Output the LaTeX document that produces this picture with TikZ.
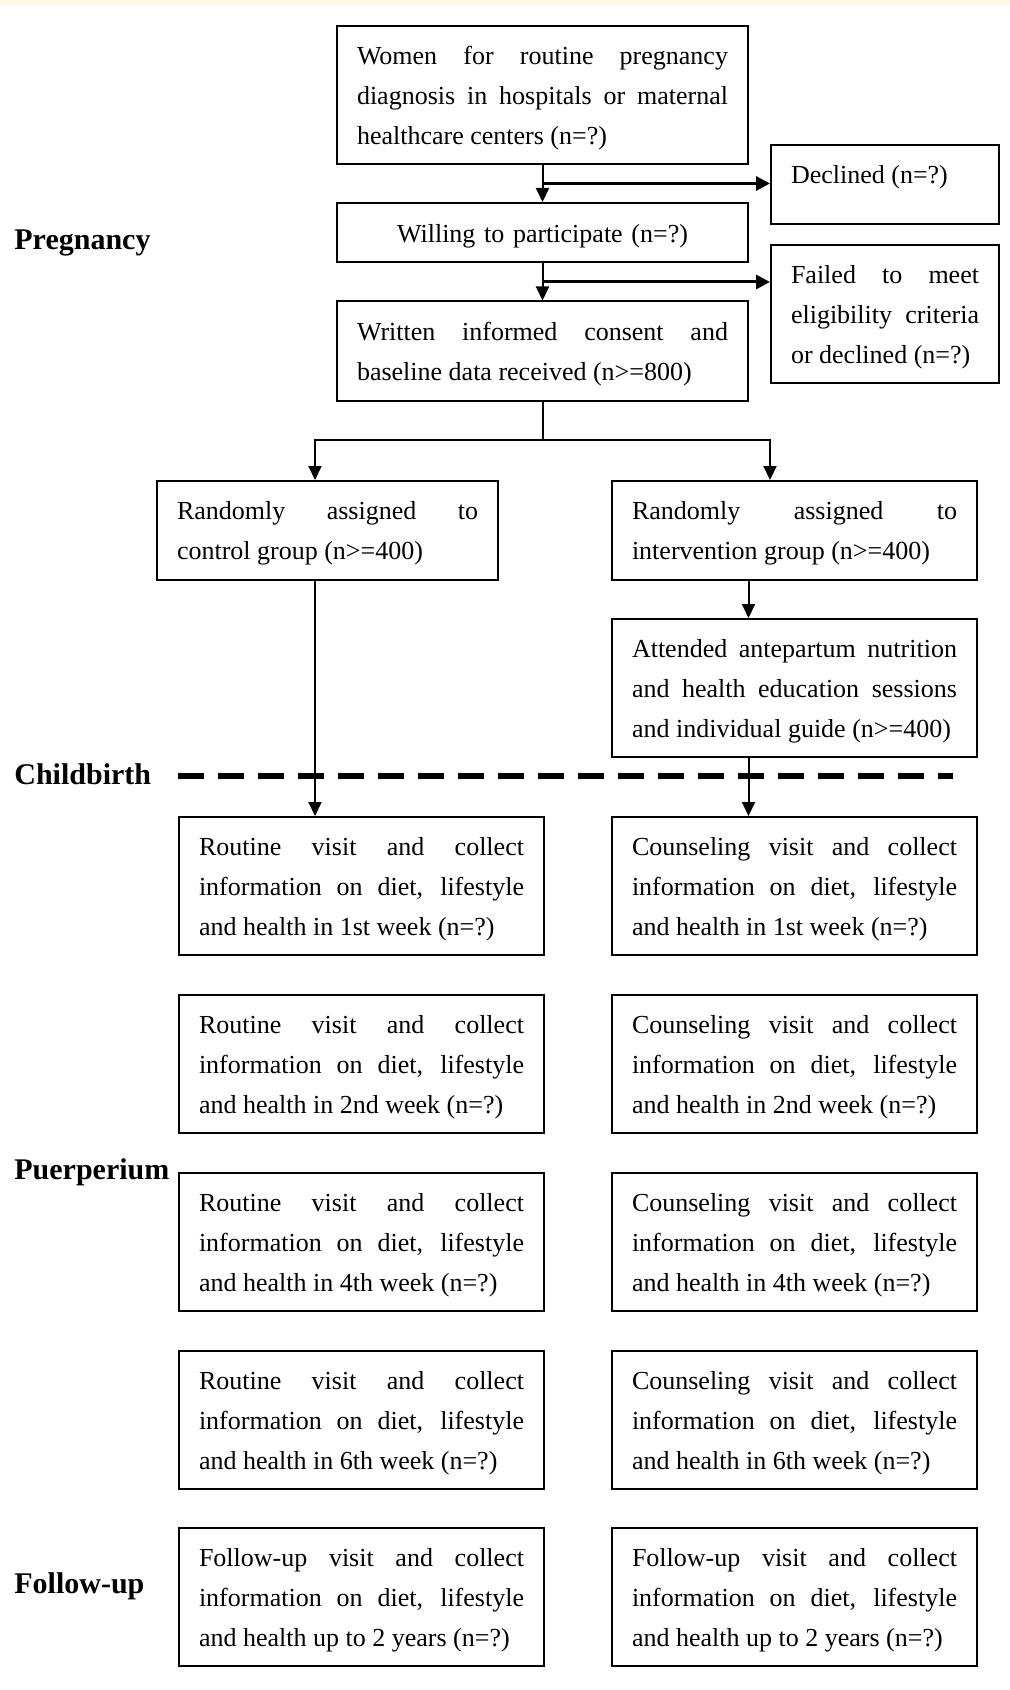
\documentclass[tikz,border=0pt]{standalone}
\usepackage{fontspec}
\setmainfont{Liberation Serif}
\usepackage{tikz}
\usetikzlibrary{arrows.meta,positioning,calc}
\tolerance=10000
\hbadness=10000
\hyphenpenalty=10000
\exhyphenpenalty=10000
\definecolor{topband}{RGB}{255,250,232}
\tikzset{
    box/.style={draw, line width=1pt, inner xsep=10pt, inner ysep=5pt, align=justify, font=\fontsize{13}{20}\selectfont, execute at begin node={\rule{0pt}{12.2pt}}},
    mainbox/.style={box, text width=185.5pt},
    sidebox/.style={box, text width=94pt},
    armbox/.style={box, text width=162.5pt},
    threeline/.style={minimum height=69pt},
    twoline/.style={minimum height=49.5pt},
    flow/.style={-{Triangle[length=7pt, width=6.5pt]}, line width=1pt},
    exitflow/.style={-{Triangle[length=7pt, width=7pt]}, line width=1.5pt},
    stagelabel/.style={anchor=west, inner sep=0pt, font=\fontsize{15}{18}\selectfont\bfseries},
    birthline/.style={line width=3pt, dash pattern=on 13pt off 7pt}
}
\begin{document}
\begin{tikzpicture}[node distance=18.5pt]
\fill[white] (0,0) rectangle (505pt,-845pt);
\useasboundingbox (0,0) rectangle (505pt,-845pt);
\fill[topband] (0,0) rectangle (505pt,-3pt);

\node[mainbox, threeline] (women) at (271.25pt,-47.5pt) {Women for routine pregnancy\linebreak diagnosis in hospitals or maternal\linebreak healthcare centers (n=?)};
\node[mainbox, align=center, minimum height=29.75pt, below=of women] (willing) {Willing to participate (n=?)};
\node[mainbox, twoline, below=of willing] (consent) {Written informed consent and\linebreak baseline data received (n>=800)};
\node[sidebox, anchor=north west, text height=14.15pt, text depth=15.35pt] (declined) at (385pt,-72pt) {Declined (n=?)};
\node[sidebox, threeline, anchor=north west] (failed) at (385pt,-122pt) {Failed to meet\linebreak eligibility criteria\linebreak or declined (n=?)};

\node[box, text width=150.5pt, twoline, anchor=north west] (control) at (78pt,-240pt) {Randomly assigned to\linebreak control group (n>=400)};
\node[armbox, twoline, anchor=north west] (interv) at (305.5pt,-240pt) {Randomly assigned to\linebreak intervention group (n>=400)};
\node[armbox, threeline, below=of interv] (guide) {Attended antepartum nutrition\linebreak and health education sessions\linebreak and individual guide (n>=400)};

\node[armbox, threeline, anchor=north west] (rw1) at (89pt,-408pt) {Routine visit and collect\linebreak information on diet, lifestyle\linebreak and health in 1st week (n=?)};
\node[armbox, threeline, below=19pt of rw1] (rw2) {Routine visit and collect\linebreak information on diet, lifestyle\linebreak and health in 2nd week (n=?)};
\node[armbox, threeline, below=19pt of rw2] (rw4) {Routine visit and collect\linebreak information on diet, lifestyle\linebreak and health in 4th week (n=?)};
\node[armbox, threeline, below=19pt of rw4] (rw6) {Routine visit and collect\linebreak information on diet, lifestyle\linebreak and health in 6th week (n=?)};
\node[armbox, threeline, below=18.5pt of rw6] (rfu) {Follow-up visit and collect\linebreak information on diet, lifestyle\linebreak and health up to 2 years (n=?)};

\node[armbox, threeline, anchor=north west] (cw1) at (305.5pt,-408pt) {Counseling visit and collect\linebreak information on diet, lifestyle\linebreak and health in 1st week (n=?)};
\node[armbox, threeline, below=19pt of cw1] (cw2) {Counseling visit and collect\linebreak information on diet, lifestyle\linebreak and health in 2nd week (n=?)};
\node[armbox, threeline, below=19pt of cw2] (cw4) {Counseling visit and collect\linebreak information on diet, lifestyle\linebreak and health in 4th week (n=?)};
\node[armbox, threeline, below=19pt of cw4] (cw6) {Counseling visit and collect\linebreak information on diet, lifestyle\linebreak and health in 6th week (n=?)};
\node[armbox, threeline, below=18.5pt of cw6] (cfu) {Follow-up visit and collect\linebreak information on diet, lifestyle\linebreak and health up to 2 years (n=?)};

\node[stagelabel] (pregnancy) at (7pt,-121.5pt) {Pregnancy};
\node[stagelabel] (childbirth) at (7pt,-387pt) {Childbirth};
\node[stagelabel] (puerperium) at (7pt,-586.3pt) {Puerperium};
\node[stagelabel] (followup) at (7pt,-793pt) {Follow-up};

\coordinate (birthend) at (476.5pt,-388pt);
\draw[birthline] (rw1.west |- birthend) -- (birthend);

\coordinate (s1) at ($(women.south)!0.5!(willing.north)$);
\coordinate (s2) at ($(willing.south)!0.5!(consent.north)$);
\draw[flow] (women) -- (willing);
\draw[flow] (willing) -- (consent);
\draw[exitflow] (s1) -- (s1 -| declined.west);
\draw[exitflow] (s2) -- (s2 -| failed.west);
\draw[line width=1pt] (consent.south) -- ++(0,-19pt) coordinate (split);
\draw[flow] (split) -| ([xshift=-6.25pt]control.north);
\draw[flow] (split) -| (declined.west |- interv.north);
\draw[flow] ([xshift=-23pt]interv.south) -- ([xshift=-23pt]guide.north);
\draw[flow] ([xshift=-23pt]guide.south) -- ([xshift=-23pt]guide.south |- cw1.north);
\draw[flow] ([xshift=-6.25pt]control.south) -- ([xshift=-6.25pt]control.south |- rw1.north);
\end{tikzpicture}
\end{document}
